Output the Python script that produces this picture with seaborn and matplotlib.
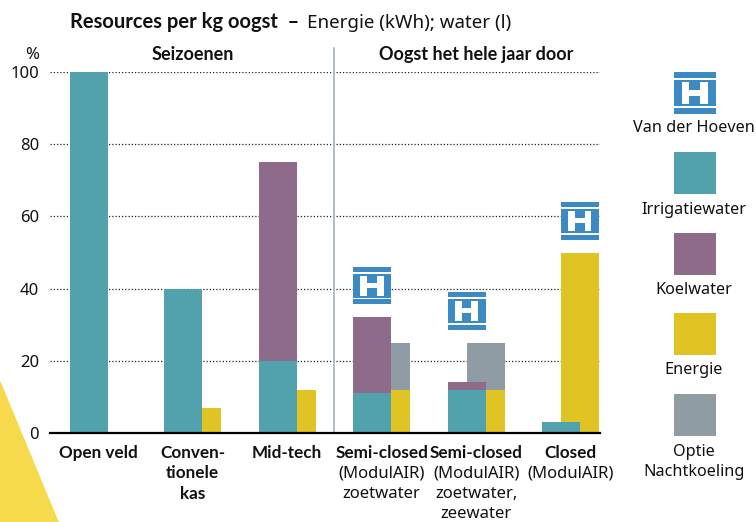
import numpy as np
import pandas as pd
import matplotlib
matplotlib.use("Agg")
import matplotlib.pyplot as plt
from matplotlib.patches import Rectangle, Polygon
import seaborn as sns

# ---------------- data ----------------
categories = ["Open veld", "Conventionele kas", "Mid-tech",
              "Semi-closed zoetwater", "Semi-closed zoetwater, zeewater", "Closed"]
label_bold = [["Open veld"], ["Conven-", "tionele", "kas"], ["Mid-tech"],
              ["Semi-closed"], ["Semi-closed"], ["Closed"]]
label_regular = [[], [], [], ["(ModulAIR)", "zoetwater"],
                 ["(ModulAIR)", "zoetwater,", "zeewater"], ["(ModulAIR)"]]
irrigatiewater = [100, 40, 20, 11, 12, 3]
koelwater = [0, 0, 55, 21, 2, 0]
energie = [0, 7, 12, 12, 12, 50]
nachtkoeling = [0, 0, 0, 13, 13, 0]
logo_on = [None, None, None, "water", "water", "energie"]
group_names = ["Seizoenen", "Oogst het hele jaar door"]
group_centers = [1, 4]
yticks = [0, 20, 40, 60, 80, 100]
legend_labels = ["Van der Hoeven", "Irrigatiewater", "Koelwater", "Energie", "Optie\nNachtkoeling"]

C_IRR = "#52A2AE"
C_KOEL = "#8E6B8A"
C_ENER = "#E0C424"
C_NACHT = "#8F9CA3"
C_LOGO = "#3B8AC4"
C_TRI = "#F7D94C"
C_SEP = "#A8B8BF"

W, H = 756, 522
BOLD = ["Lato", "DejaVu Sans"]

sns.set_theme(style="white")
plt.rcParams["font.family"] = ["Noto Sans", "DejaVu Sans"]

pos = np.arange(len(categories))
df = pd.DataFrame({
    "cat": categories,
    "x_water": pos - 0.1,
    "x_energy": pos + 0.1,
    "irr": irrigatiewater,
    "water_total": np.array(irrigatiewater) + np.array(koelwater),
    "ener": energie,
    "energy_total": np.array(energie) + np.array(nachtkoeling),
})

fig = plt.figure(figsize=(W / 100, H / 100), dpi=100)
ax = fig.add_axes([50 / W, 89 / H, 550 / W, 361 / H])

def px(x, y):
    return (x / W, 1 - y / H)

# yellow corner triangle
fig.patches.append(Polygon([px(0, 382), px(58, 522), px(0, 522)], closed=True,
                           transform=fig.transFigure, color=C_TRI, zorder=0))

common = dict(native_scale=True, orient="x", width=0.4, errorbar=None,
              saturation=1, linewidth=0, ax=ax)
# energy stack (drawn first, sits behind water bars)
sns.barplot(data=df, x="x_energy", y="energy_total", color=C_NACHT, **common)
sns.barplot(data=df, x="x_energy", y="ener", color=C_ENER, **common)
# water stack
sns.barplot(data=df, x="x_water", y="water_total", color=C_KOEL, **common)
sns.barplot(data=df, x="x_water", y="irr", color=C_IRR, **common)

ax.set_xlim(-0.51, 5.31)
ax.set_ylim(0, 100)
ax.set_xlabel("")
ax.set_ylabel("")
ax.set_xticks([])
ax.set_yticks(yticks)
ax.set_yticklabels([str(v) for v in yticks], fontsize=12, color="#111111")
ax.tick_params(axis="y", length=0, pad=8)
ax.yaxis.grid(True, linestyle=(0, (1, 1.6)), color="#222222", linewidth=0.9)
ax.set_axisbelow(True)
for s in ["left", "right", "top"]:
    ax.spines[s].set_visible(False)
ax.spines["bottom"].set_color("black")
ax.spines["bottom"].set_linewidth(1.6)
ax.spines["bottom"].set_zorder(5)
ax.patch.set_alpha(0)

# separator between groups
ax.plot([2.5, 2.5], [0, 106.6], color=C_SEP, lw=1.3, clip_on=False, zorder=1)
for name, c in zip(group_names, group_centers):
    ax.text(c, 104.8, name, ha="center", va="center", fontsize=13, family=BOLD,
            fontweight="bold", color="#111111", clip_on=False)
fig.text(*px(32, 55), "%", ha="center", va="center", fontsize=12, color="#111111")

# category labels
for i in range(len(categories)):
    lines = [(t, "bold") for t in label_bold[i]] + [(t, "normal") for t in label_regular[i]]
    for k, (t, wgt) in enumerate(lines):
        kw = dict(family=BOLD, fontsize=12.3) if wgt == "bold" else dict(fontsize=12)
        ax.annotate(t, xy=(pos[i], 0), xycoords=("data", "axes fraction"),
                    xytext=(0, -20 - 20.5 * k), textcoords="offset pixels",
                    ha="center", va="center", fontweight=wgt, color="#111111",
                    annotation_clip=False, **kw)

# logo helper
def draw_logo(target, transform, x0, y0, w, h, zorder=6):
    parts = [
        (0.0, 0.0, 1.0, 0.132, C_LOGO),
        (0.0, 0.184, 1.0, 0.632, C_LOGO),
        (0.0, 0.868, 1.0, 0.132, C_LOGO),
        (0.184, 0.237, 0.18, 0.526, "white"),
        (0.62, 0.237, 0.18, 0.526, "white"),
        (0.184, 0.43, 0.616, 0.14, "white"),
    ]
    for fx, fy, fw, fh, col in parts:
        r = Rectangle((x0 + fx * w, y0 + fy * h), fw * w, fh * h, transform=transform,
                      facecolor=col, edgecolor="none", zorder=zorder, clip_on=False)
        if target is fig:
            fig.patches.append(r)
        else:
            target.add_patch(r)

water_total = df["water_total"].to_numpy()
energy_total = df["energy_total"].to_numpy()
for i, which in enumerate(logo_on):
    if which is None:
        continue
    base = max(water_total[i], energy_total[i]) + 3.6
    xc = pos[i] - 0.1 if which == "water" else pos[i] + 0.1
    draw_logo(ax, ax.transData, xc - 0.2, base, 0.4, 10.5)

# legend
lx0, lx1 = 674, 716
x0f, _ = px(lx0, 0)
wf = (lx1 - lx0) / W
draw_logo(fig, fig.transFigure, x0f, px(0, 114)[1], wf, 42 / H)
swatches = [(C_IRR, 152), (C_KOEL, 233), (C_ENER, 313), (C_NACHT, 394)]
for col, ytop in swatches:
    fig.patches.append(Rectangle(px(lx0, ytop + 42), wf, 42 / H, transform=fig.transFigure,
                                 facecolor=col, edgecolor="none", zorder=3))
label_y = [128, 210, 290, 370, 462]
for lab, y in zip(legend_labels, label_y):
    fig.text(*px(694, y), lab, ha="center", va="center", fontsize=11.7, color="#111111",
             linespacing=1.25)

# title
t = fig.text(*px(70, 22), "Resources per kg oogst  \u2013", ha="left", va="center",
             fontsize=14.5, fontweight="bold", family=BOLD, color="#111111")
ax.annotate("Energie (kWh); water (l)", xy=(1, 0), xycoords=t, xytext=(8, 0),
            textcoords="offset pixels", ha="left", va="bottom", fontsize=13.5,
            color="#111111", annotation_clip=False)

fig.savefig("out.png", dpi=100, facecolor="white")
